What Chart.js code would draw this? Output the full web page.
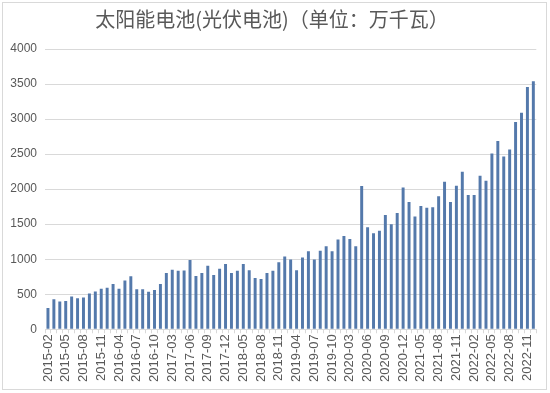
<!DOCTYPE html>
<html>
<head>
<meta charset="utf-8">
<script src="https://cdn.jsdelivr.net/npm/chart.js@4"></script>
<style>
  html, body { margin: 0; padding: 0; background: #fff; }
  #wrap { width: 550px; height: 393px; position: relative; }
</style>
</head>
<body>
<div id="wrap"><canvas id="solarChart"></canvas></div>
<script>
// months, Jan missing in most years (Jan-Feb reported together)
const months = [
  "2015-02","2015-03","2015-04","2015-05","2015-06","2015-07","2015-08","2015-09","2015-10","2015-11","2015-12",
  "2016-03","2016-04","2016-05","2016-06","2016-07","2016-08","2016-09","2016-10","2016-11","2016-12",
  "2017-03","2017-04","2017-05","2017-06","2017-07","2017-08","2017-09","2017-10","2017-11","2017-12",
  "2018-03","2018-04","2018-05","2018-06","2018-07","2018-08","2018-09","2018-10","2018-11","2018-12",
  "2019-03","2019-04","2019-05","2019-06","2019-07","2019-08","2019-09","2019-10","2019-11","2019-12",
  "2020-03","2020-04","2020-05","2020-06","2020-07","2020-08","2020-09","2020-10","2020-11","2020-12",
  "2021-03","2021-04","2021-05","2021-06","2021-07","2021-08","2021-09","2021-10","2021-11","2021-12",
  "2022-01","2022-02","2022-03","2022-04","2022-05","2022-06","2022-07","2022-08","2022-09","2022-10","2022-11","2022-12"
];

// output, 万千瓦
const output = [
  305, 428, 395, 405, 468, 442, 455, 512, 540, 580, 592,
  645, 580, 695, 758, 570, 570, 536, 560, 645,
  802, 850, 835, 838, 990, 762, 805, 906, 776, 863, 932,
  805, 834, 932, 844, 732, 717, 805, 834, 956, 1039,
  995, 844, 1024, 1112, 995, 1122, 1185, 1112, 1283, 1332,
  1288, 1185, 2045, 1455, 1370, 1405, 1630, 1500, 1659, 2025,
  1817, 1611, 1760, 1736, 1740, 1899, 2106, 1817, 2048, 2250,
  1918, 1918, 2192, 2120, 2510, 2688, 2466, 2567, 2957, 3091, 3457, 3540
];

const yTicks = [0, 500, 1000, 1500, 2000, 2500, 3000, 3500, 4000];

const frame = {
  id: "frame",
  afterDraw(chart) {
    const ctx = chart.ctx;
    ctx.save();
    ctx.strokeStyle = "#d9d9d9";
    ctx.lineWidth = 1;
    ctx.strokeRect(2.5, 2.5, chart.width - 6, chart.height - 6);
    ctx.restore();
  }
};

new Chart(document.getElementById("solarChart"), {
  type: "bar",
  data: {
    labels: months,
    datasets: [{
      data: output,
      backgroundColor: "#5479ab",
      barPercentage: 0.5,
      categoryPercentage: 1.0
    }]
  },
  options: {
    responsive: true,
    maintainAspectRatio: false,
    animation: false,
    layout: { padding: { left: 4, right: 10, top: 2, bottom: 10 } },
    plugins: {
      legend: { display: false },
      tooltip: { enabled: false },
      title: {
        display: true,
        text: "太阳能电池(光伏电池)（单位：万千瓦）",
        color: "#595959",
        font: { family: "'Noto Sans CJK SC'", size: 20, weight: "normal" },
        padding: { top: 5, bottom: 18 }
      }
    },
    scales: {
      x: {
        grid: {
          drawOnChartArea: false,
          offset: true,
          tickLength: 4,
          color: "#d9d9d9"
        },
        border: { color: "#d9d9d9" },
        ticks: {
          autoSkip: false,
          maxRotation: 90,
          minRotation: 90,
          color: "#595959",
          font: { family: "'Liberation Sans'", size: 13 },
          padding: 1,
          callback: function (v, i) { return i % 3 === 0 ? months[i] : ""; }
        }
      },
      y: {
        min: 0,
        max: 4000,
        afterBuildTicks: (s) => { s.ticks = yTicks.map(v => ({ value: v })); },
        afterFit: (s) => { s.width = 41; },
        grid: { color: "#d9d9d9", drawTicks: false },
        border: { display: false },
        ticks: {
          color: "#595959",
          font: { family: "'Liberation Sans'", size: 12 },
          padding: 8,
          callback: (v) => String(v)
        }
      }
    }
  },
  plugins: [frame]
});
</script>
</body>
</html>
